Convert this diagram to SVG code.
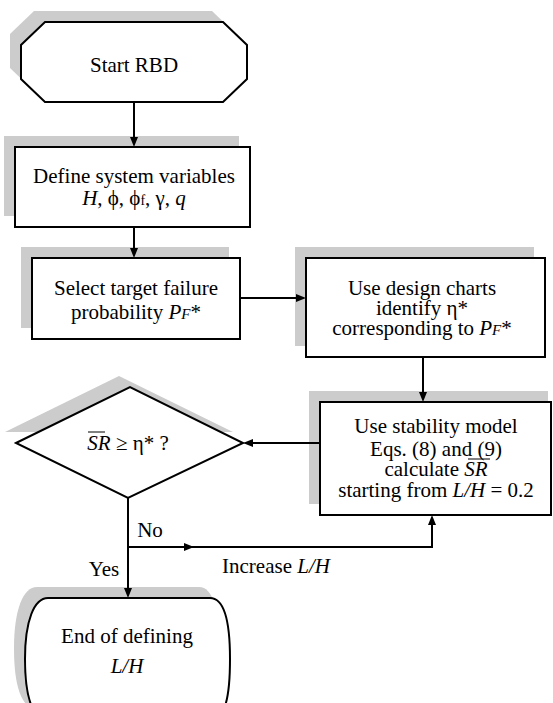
<svg xmlns="http://www.w3.org/2000/svg" width="553" height="703" viewBox="0 0 553 703">
<style>
.sh{fill:#cccccc;stroke:none}
.nd{fill:#ffffff;stroke:#000000;stroke-width:2}
.ln{fill:none;stroke:#000000;stroke-width:2}
.ah{fill:#000000;stroke:none}
.t{font-size:21px;fill:#000000;text-anchor:middle}
.i{font-style:italic}
</style>
<rect width="553" height="703" fill="#ffffff"/>
<g id="start">
<polygon class="sh" points="34,11 212,11 236,34 236,68 212,91 34,91 10,68 10,34"/>
<polygon class="nd" points="45,22 223,22 247,45 247,79 223,102 45,102 21,79 21,45"/>
<text class="t" x="134" y="72" font-family="'Liberation Serif', 'Times New Roman', Times, serif">Start RBD</text>
</g>
<g id="define">
<rect class="sh" x="4" y="136" width="235" height="80"/>
<rect class="nd" x="15" y="147" width="235" height="80"/>
<text class="t" x="134" y="183" font-family="'Liberation Serif', 'Times New Roman', Times, serif">Define system variables</text>
<text class="t" x="134" y="205" font-family="'Liberation Serif', 'Times New Roman', Times, serif"><tspan class="i">H</tspan>, ϕ, ϕ<tspan font-size="14">f</tspan>, γ, <tspan class="i">q</tspan></text>
</g>
<g id="select">
<rect class="sh" x="21" y="247" width="208" height="81"/>
<rect class="nd" x="32" y="258" width="208" height="81"/>
<text class="t" x="136" y="295" font-family="'Liberation Serif', 'Times New Roman', Times, serif">Select target failure</text>
<text class="t" x="136" y="319" font-family="'Liberation Serif', 'Times New Roman', Times, serif">probability <tspan class="i">P</tspan><tspan class="i" font-size="15">F</tspan>*</text>
</g>
<g id="charts">
<rect class="sh" x="295" y="247" width="239" height="99"/>
<rect class="nd" x="306" y="258" width="239" height="99"/>
<text class="t" x="422" y="295" font-family="'Liberation Serif', 'Times New Roman', Times, serif">Use design charts</text>
<text class="t" x="422" y="315" font-family="'Liberation Serif', 'Times New Roman', Times, serif">identify η*</text>
<text class="t" x="422" y="335" font-family="'Liberation Serif', 'Times New Roman', Times, serif">corresponding to <tspan class="i">P</tspan><tspan class="i" font-size="15">F</tspan>*</text>
</g>
<g id="stability">
<rect class="sh" x="309" y="391" width="239" height="113"/>
<rect class="nd" x="320" y="402" width="231" height="113"/>
<text class="t" x="436" y="433" font-family="'Liberation Serif', 'Times New Roman', Times, serif">Use stability model</text>
<text class="t" x="436" y="456" font-family="'Liberation Serif', 'Times New Roman', Times, serif">Eqs. (8) and (9)</text>
<text class="t" x="436" y="476" font-family="'Liberation Serif', 'Times New Roman', Times, serif">calculate <tspan class="i">SR</tspan></text>
<line x1="468" y1="459" x2="490" y2="459" stroke="#000000" stroke-width="1"/>
<text class="t" x="436" y="497" font-family="'Liberation Serif', 'Times New Roman', Times, serif">starting from <tspan class="i">L/H</tspan> = 0.2</text>
</g>
<g id="decision">
<polygon class="sh" points="5,432 119,376 233,432"/>
<polygon class="nd" points="16,443 130,387 243,443 128,498"/>
<text class="t" x="128" y="450" font-family="'Liberation Serif', 'Times New Roman', Times, serif"><tspan class="i">SR</tspan> ≥ η* ?</text>
<line x1="88" y1="432" x2="105" y2="432" stroke="#000000" stroke-width="1"/>
</g>
<g id="end">
<path class="sh" d="M37,587 H199 C213,587 219,610 219,648 C219,690 213,709 199,709 H37 C23,709 14,690 14,648 C14,610 23,587 37,587 Z"/>
<path class="nd" d="M48,598 H210 C224,598 230,621 230,659 C230,701 224,720 210,720 H48 C34,720 25,701 25,659 C25,621 34,598 48,598 Z"/>
<text class="t" x="127" y="643" font-family="'Liberation Serif', 'Times New Roman', Times, serif">End of defining</text>
<text class="t i" x="127" y="673" font-family="'Liberation Serif', 'Times New Roman', Times, serif">L/H</text>
</g>
<g id="connectors">
<line class="ln" x1="134" y1="102" x2="134" y2="139"/>
<polygon class="ah" points="134,147 130,137 138,137"/>
<line class="ln" x1="134" y1="227" x2="134" y2="250"/>
<polygon class="ah" points="134,258 130,248 138,248"/>
<line class="ln" x1="240" y1="298" x2="298" y2="298"/>
<polygon class="ah" points="306,298 296,294 296,302"/>
<line class="ln" x1="423" y1="357" x2="423" y2="394"/>
<polygon class="ah" points="423,402 419,392 427,392"/>
<line class="ln" x1="320" y1="443" x2="251" y2="443"/>
<polygon class="ah" points="243,443 253,439 253,447"/>
<line class="ln" x1="128" y1="498" x2="128" y2="590"/>
<polygon class="ah" points="128,598 124,588 132,588"/>
<polyline class="ln" points="128,547 432,547 432,523"/>
<polygon class="ah" points="194,547 184,543 184,551"/>
<polygon class="ah" points="432,515 428,525 436,525"/>
<text class="t" x="150" y="537" font-family="'Liberation Serif', 'Times New Roman', Times, serif">No</text>
<text class="t" x="104" y="576" font-family="'Liberation Serif', 'Times New Roman', Times, serif">Yes</text>
<text class="t" x="276" y="573" font-family="'Liberation Serif', 'Times New Roman', Times, serif">Increase <tspan class="i">L/H</tspan></text>
</g>
</svg>
